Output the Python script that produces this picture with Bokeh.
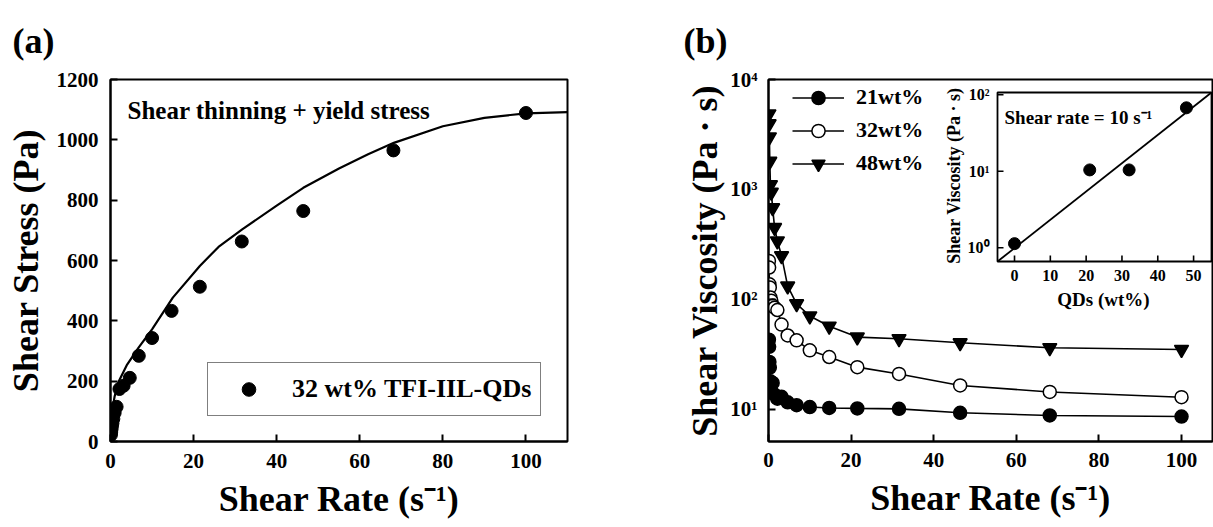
import math
from bokeh.plotting import figure
from bokeh.layouts import row
from bokeh.models import (Range1d, LogScale, LinearScale, Label, Legend,
                          LegendItem, FixedTicker, Title)
from bokeh.core.properties import value
from bokeh.embed import file_html
from bokeh.resources import INLINE

# ---------------- data: panel (a) ----------------
rate_a = [0.1, 0.147, 0.215, 0.316, 0.464, 0.681, 1.0, 1.47, 2.15, 3.16,
          4.64, 6.81, 10.0, 14.7, 21.5, 31.6, 46.4, 68.1, 100.0]
stress_a = [22, 30, 38, 48, 60, 75, 95, 115, 174, 185,
            211, 284, 343, 433, 513, 663, 764, 965, 1089]
fit_a_rate = [0.0, 0.5, 1.0, 2.0, 4.0, 6.8, 10.0, 15.0, 21.5, 26.0, 31.7, 40.0,
              46.4, 55.0, 62.0, 68.2, 80.0, 90.0, 100.0, 110.0]
fit_a_stress = [30, 110, 150, 200, 255, 312, 372, 477, 582, 645, 703, 782,
                841, 905, 952, 990, 1045, 1073, 1088, 1092]
xticks_a = [0, 20, 40, 60, 80, 100]
yticks_a = [0, 200, 400, 600, 800, 1000, 1200]
legend_a = "32 wt% TFI-IIL-QDs"
note_a = "Shear thinning + yield stress"

# ---------------- data: panel (b) ----------------
rate_b = [0.1, 0.147, 0.215, 0.316, 0.464, 0.681, 1.0, 1.47, 2.15, 3.16,
          4.64, 6.81, 10.0, 14.7, 21.5, 31.6, 46.4, 68.1, 100.0]
visc_21 = [43, 37, 27, 24, 18, 14.6, 17.4, 13.6, 12.5, 13.0,
           11.6, 10.9, 10.5, 10.3, 10.2, 10.1, 9.3, 8.8, 8.6]
visc_32 = [224, 195, 137, 128, 104, 97, 88, 84, 80, 59,
           47, 42.4, 34.4, 29.9, 24.2, 21.0, 16.5, 14.4, 12.9]
visc_48 = [4860, 3950, 3000, 1800, 1100, 940, 680, 450, 340, 249,
           132, 91, 70.6, 57, 45.4, 43.9, 40.3, 36.3, 35]
labels_b = ["21wt%", "32wt%", "48wt%"]
xticks_b = [0, 20, 40, 60, 80, 100]
yticks_b = [10, 100, 1000, 10000]
ytick_labels_b = ["10\u00b9", "10\u00b2", "10\u00b3", "10\u2074"]

# ---------------- data: inset ----------------
inset_qd = [0, 21, 32, 48]
inset_visc = [1.13, 10.4, 10.4, 67.5]
inset_fit_qd = [-4.75, 55.0]
inset_fit_visc = [0.66, 107.0]
inset_xlim = [-4.75, 55.0]
inset_ylim = [0.66, 107.0]
inset_xticks = [0, 10, 20, 30, 40, 50]
inset_xtick_labels = ["0", "10", "20", "30", "40", "50"]
inset_yticks = [1, 10, 100]
inset_ytick_labels = ["10\u2070", "10\u00b9", "10\u00b2"]

SERIF = "Liberation Serif"
H = 527


def style_axes(p, size="21px", standoff=12):
    p.grid.visible = False
    p.outline_line_color = "black"
    p.outline_line_width = 2
    p.background_fill_color = "white"
    p.border_fill_color = "white"
    for ax in p.axis:
        ax.axis_line_width = 2
        ax.axis_line_color = "black"
        ax.major_tick_in = 7
        ax.major_tick_out = 0
        ax.major_tick_line_width = 2
        ax.minor_tick_line_color = None
        ax.major_label_text_font = SERIF
        ax.major_label_text_font_style = "bold"
        ax.major_label_text_font_size = size
        ax.major_label_text_color = "black"
        ax.major_label_standoff = standoff
        ax.axis_label_text_font = SERIF
        ax.axis_label_text_font_style = "bold"
        ax.axis_label_text_font_size = "36px"
        ax.axis_label_text_color = "black"


def style_title(p, text, offset, standoff):
    p.title.text = text
    p.title.text_font = SERIF
    p.title.text_font_style = "bold"
    p.title.text_font_size = "36px"
    p.title.text_color = "black"
    p.title.align = "left"
    p.title.offset = offset
    p.title.standoff = standoff
    # empty spacer title between the frame and the panel letter
    p.add_layout(Title(text=" ", text_font_size="12px", standoff=0), "above")


def lab(p, text, x, y, size, angle=0.0, align="center", baseline="middle"):
    p.add_layout(Label(x=x, y=y, x_units="screen", y_units="screen", text=text,
                       text_font=SERIF, text_font_style="bold",
                       text_font_size=size, text_color="black",
                       text_align=align, text_baseline=baseline, angle=angle))


# ================= panel (a) =================
pa = figure(width=600, height=H, x_range=Range1d(0, 110), y_range=Range1d(0, 1200),
            output_backend="svg", toolbar_location=None,
            min_border_left=110, min_border_right=33,
            min_border_top=78, min_border_bottom=86)
style_axes(pa)
style_title(pa, "(a)", -98, 6)
pa.xaxis.ticker = FixedTicker(ticks=xticks_a)
pa.yaxis.ticker = FixedTicker(ticks=yticks_a)
pa.xaxis.axis_label = "Shear Rate (s\u207b\u00b9)"
pa.yaxis.axis_label = "Shear Stress (Pa)"
pa.xaxis.axis_label_standoff = 8
pa.yaxis.axis_label_standoff = 8

pa.line(fit_a_rate, fit_a_stress, line_color="black", line_width=2.2)
pts_a = pa.scatter(rate_a, stress_a, marker="circle", size=13,
                   fill_color="black", line_color="black")

leg_a = Legend(items=[LegendItem(label=legend_a, renderers=[pts_a])],
               location=(97, 25), padding=9, margin=0,
               glyph_width=63, glyph_height=34, label_height=34,
               label_standoff=12, border_line_color="black",
               border_line_width=1.5, background_fill_color="white",
               background_fill_alpha=1.0, label_text_font=SERIF,
               label_text_font_style="bold", label_text_font_size="26px",
               label_text_color="black")
pa.add_layout(leg_a)
lab(pa, note_a, 17, 331, "25px", align="left")

# ================= panel (b) =================
FB_L, FB_R, FB_T, FB_B = 768, 1212, 79, 441
IN_L, IN_R, IN_T, IN_B = 997, 1211, 92, 261

pb = figure(width=613, height=H, x_range=Range1d(0, 107.5),
            y_range=Range1d(5.1, 10000), y_axis_type="log",
            output_backend="svg", toolbar_location=None,
            min_border_left=168, min_border_right=1,
            min_border_top=79, min_border_bottom=86)
style_axes(pb, standoff=11)
style_title(pb, "(b)", -85, 6)
pb.xaxis.ticker = FixedTicker(ticks=xticks_b)
pb.yaxis.ticker = FixedTicker(ticks=yticks_b)
pb.yaxis.major_label_overrides = {t: s for t, s in zip(yticks_b, ytick_labels_b)}
pb.xaxis.axis_label = "Shear Rate (s\u207b\u00b9)"
pb.yaxis.axis_label = "Shear Viscosity (Pa \u00b7 s)"
pb.xaxis.axis_label_standoff = 8
pb.yaxis.axis_label_standoff = 2

series = [(visc_21, "circle", "black"), (visc_32, "circle", "white"),
          (visc_48, "inverted_triangle", "black")]
items = []
for (vals, mk, fc), name in zip(series, labels_b):
    ln = pb.line(rate_b, vals, line_color="black", line_width=1.6)
    sc = pb.scatter(rate_b, vals, marker=mk, size=14 if mk != "circle" else 13,
                    fill_color=fc, line_color="black", line_width=1.5)
    items.append(LegendItem(label=name, renderers=[ln, sc]))

leg_b = Legend(items=items, location=(24, 261.5), padding=0, margin=0,
               spacing=-6, glyph_width=52, glyph_height=33, label_height=33,
               label_standoff=12, border_line_color=None,
               background_fill_alpha=0.0, label_text_font=SERIF,
               label_text_font_style="bold", label_text_font_size="22px",
               label_text_color="black")
pb.add_layout(leg_b)

# ---- inset (own scales mapped into the inset box) ----
sx_in = (IN_R - IN_L) / (inset_xlim[1] - inset_xlim[0])
ly0, ly1 = math.log10(inset_ylim[0]), math.log10(inset_ylim[1])
sy_in = (IN_B - IN_T) / (ly1 - ly0)
ix_lo = inset_xlim[0] - (IN_L - FB_L) / sx_in
ix_hi = inset_xlim[1] + (FB_R - IN_R) / sx_in
iy_lo = 10 ** (ly0 - (FB_B - IN_B) / sy_in)
iy_hi = 10 ** (ly1 + (IN_T - FB_T) / sy_in)
pb.extra_x_ranges = {"ix": Range1d(ix_lo, ix_hi)}
pb.extra_y_ranges = {"iy": Range1d(iy_lo, iy_hi)}
pb.extra_x_scales = {"ix": LinearScale()}
pb.extra_y_scales = {"iy": LogScale()}
kw = dict(x_range_name="ix", y_range_name="iy")

pb.quad(left=[inset_xlim[0]], right=[inset_xlim[1]],
        bottom=[inset_ylim[0]], top=[inset_ylim[1]],
        fill_color="white", line_color="black", line_width=1.8, **kw)
tick_px = 6
ty = inset_ylim[0] * 10 ** (tick_px / sy_in)
tx = inset_xlim[0] + tick_px / sx_in
pb.segment(x0=inset_xticks, x1=inset_xticks,
           y0=[inset_ylim[0]] * len(inset_xticks), y1=[ty] * len(inset_xticks),
           line_color="black", line_width=1.6, **kw)
pb.segment(x0=[inset_xlim[0]] * len(inset_yticks), x1=[tx] * len(inset_yticks),
           y0=inset_yticks, y1=inset_yticks,
           line_color="black", line_width=1.6, **kw)
pb.text(x=inset_xticks, y=[inset_ylim[0]] * len(inset_xticks),
        text=inset_xtick_labels, y_offset=8, text_align="center",
        text_baseline="top", text_font=value(SERIF), text_font_style="bold",
        text_font_size="16px", text_color="black", **kw)
pb.text(x=[inset_xlim[0]] * len(inset_yticks), y=inset_yticks,
        text=inset_ytick_labels, x_offset=-8, text_align="right",
        text_baseline="middle", text_font=value(SERIF), text_font_style="bold",
        text_font_size="16px", text_color="black", **kw)
pb.line(inset_fit_qd, inset_fit_visc, line_color="black", line_width=1.8, **kw)
pb.scatter(inset_qd, inset_visc, marker="circle", size=12,
           fill_color="black", line_color="black", **kw)

lab(pb, "Shear Viscosity (Pa \u00b7 s)", 185, 266, "18px", angle=math.pi / 2)
lab(pb, "QDs (wt%)", 335, 142, "19px")
lab(pb, "Shear rate = 10 s\u207b\u00b9", 236, 324, "19px", align="left")

layout = row(pa, pb)
open("out.html", "w").write(file_html(layout, INLINE))
